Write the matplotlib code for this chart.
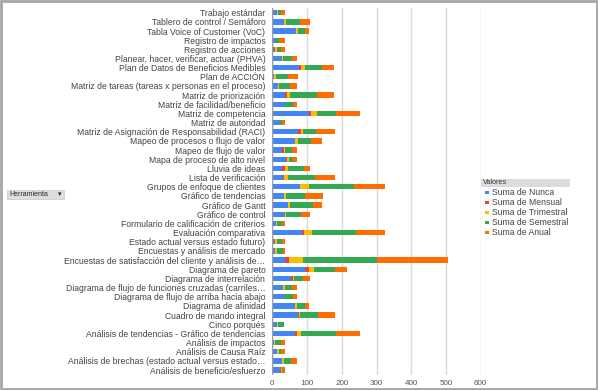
import numpy as np
import matplotlib
matplotlib.use("Agg")
import matplotlib.pyplot as plt
from matplotlib.patches import Rectangle

# herramientas, de arriba hacia abajo
herramientas = [
    "Trabajo estándar",
    "Tablero de control / Semáforo",
    "Tabla Voice of Customer (VoC)",
    "Registro de impactos",
    "Registro de acciones",
    "Planear, hacer, verificar, actuar (PHVA)",
    "Plan de Datos de Beneficios Medibles",
    "Plan de ACCIÓN",
    "Matriz de tareas (tareas x personas en el proceso)",
    "Matriz de priorización",
    "Matriz de facilidad/beneficio",
    "Matriz de competencia",
    "Matriz de autoridad",
    "Matriz de Asignación de Responsabilidad (RACI)",
    "Mapeo de procesos o flujo de valor",
    "Mapeo de flujo de valor",
    "Mapa de proceso de alto nivel",
    "Lluvia de ideas",
    "Lista de verificación",
    "Grupos de enfoque de clientes",
    "Gráfico de tendencias",
    "Gráfico de Gantt",
    "Gráfico de control",
    "Formulario de calificación de criterios",
    "Evaluación comparativa",
    "Estado actual versus estado futuro)",
    "Encuestas y análisis de mercado",
    "Encuestas de satisfacción del cliente y análisis de…",
    "Diagrama de pareto",
    "Diagrama de interrelación",
    "Diagrama de flujo de funciones cruzadas (carriles…",
    "Diagrama de flujo de arriba hacia abajo",
    "Diagrama de afinidad",
    "Cuadro de mando integral",
    "Cinco porqués",
    "Análisis de tendencias - Gráfico de tendencias",
    "Análisis de impactos",
    "Análisis de Causa Raíz",
    "Análisis de brechas (estado actual versus estado…",
    "Análisis de beneficio/esfuerzo",
]

nunca      = [13, 33, 68, 10, 6, 27, 77, 5, 15, 37, 37, 106, 20, 73, 65, 27, 39, 27, 30, 79,
              34, 46, 37, 11, 85, 5, 7, 38, 94, 54, 31, 38, 66, 75, 13, 64, 5, 13, 29, 21]
mensual    = [0, 0, 0, 0, 3, 2, 6, 0, 0, 4, 0, 5, 0, 9, 0, 7, 3, 10, 3, 2,
              0, 0, 0, 0, 5, 4, 2, 11, 11, 6, 0, 0, 0, 3, 0, 7, 0, 0, 0, 3]
trimestral = [4, 6, 5, 0, 4, 2, 11, 6, 5, 11, 0, 18, 0, 6, 8, 3, 6, 7, 12, 25,
              6, 5, 3, 3, 24, 5, 5, 39, 15, 2, 6, 0, 4, 2, 4, 12, 3, 5, 4, 4]
semestral  = [8, 41, 21, 9, 13, 26, 48, 35, 32, 77, 23, 54, 7, 38, 37, 19, 13, 46, 79, 129,
              55, 65, 42, 13, 127, 13, 18, 212, 60, 27, 20, 22, 24, 51, 16, 99, 18, 8, 20, 4]
anual      = [11, 28, 13, 17, 10, 15, 37, 27, 20, 50, 12, 70, 9, 54, 34, 16, 11, 18, 57, 90,
              50, 28, 26, 9, 83, 9, 4, 205, 36, 19, 15, 12, 13, 49, 2, 70, 10, 10, 19, 4]

series = ["Suma de Nunca", "Suma de Mensual", "Suma de Trimestral", "Suma de Semestral", "Suma de Anual"]
colores = ["#4285F4", "#EA4335", "#FBBC04", "#34A853", "#FF6D01"]
valores = [nunca, mensual, trimestral, semestral, anual]

plt.rcParams['font.family'] = ['Liberation Sans', 'DejaVu Sans']

fig = plt.figure(figsize=(5.98, 3.90), dpi=100)
ax = fig.add_axes([272.3 / 598, 1 - 374.6 / 390, (480.7 - 272.3) / 598, (374.6 - 8.1) / 390])

y = np.arange(len(herramientas))
izq = np.zeros(len(herramientas))
for nombre, col, v in zip(series, colores, valores):
    ax.barh(y, v, left=izq, height=0.58, color=col, label=nombre, zorder=3)
    izq += np.array(v)

ax.set_ylim(len(herramientas) - 0.5, -0.5)
ax.set_xlim(0, 600)
ax.set_xticks(range(0, 700, 100))
ax.set_yticks(y)
ax.set_yticklabels(herramientas, fontsize=6.2, color="#444444")
ax.tick_params(axis="y", length=0, pad=5)
ax.tick_params(axis="x", length=0, labelsize=5.8, labelcolor="#555555", pad=4)
ax.grid(axis="x", color="#dadada", lw=1, zorder=0)
ax.axvline(0, color="#9e9e9e", lw=1, zorder=4)
for s in ax.spines.values():
    s.set_visible(False)

# leyenda tipo tabla dinamica
W, H = 598.0, 390.0
fig.patches.append(Rectangle((481 / W, 1 - 187 / H), 89 / W, 8 / H, transform=fig.transFigure,
                             facecolor="#dcdcdc", edgecolor="none"))
fig.text(483 / W, 1 - 183 / H, "Valores", fontsize=5.2, color="#333333", va="center")
for i, (nombre, col) in enumerate(zip(series, colores)):
    yy = 192.7 + 10 * i
    fig.patches.append(Rectangle((485 / W, 1 - (yy + 1.5) / H), 4 / W, 3 / H,
                                 transform=fig.transFigure, facecolor=col, edgecolor="none"))
    fig.text(492 / W, 1 - yy / H, nombre, fontsize=6.2, color="#444444", va="center")

# boton "Herramienta"
fig.patches.append(Rectangle((7 / W, 1 - 199 / H), 57 / W, 9 / H, transform=fig.transFigure,
                             facecolor="#dedede", edgecolor="#c8c8c8", lw=0.5))
fig.text(9 / W, 1 - 194.5 / H, "Herramienta", fontsize=5.0, color="#222222", va="center")
fig.text(58 / W, 1 - 194.5 / H, "▾", fontsize=5.0, color="#222222", va="center",
         family=["DejaVu Sans"])

# marco gris
fig.patches.append(Rectangle((0.002, 0.003), 0.996, 0.994, transform=fig.transFigure,
                             facecolor="none", edgecolor="#a6a6a6", lw=2))

fig.savefig("out.png", dpi=100)
